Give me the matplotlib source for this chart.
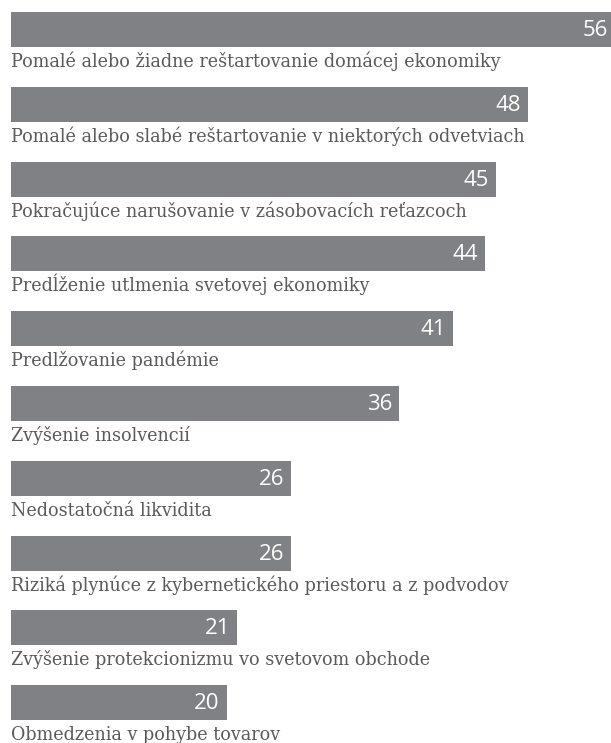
import matplotlib
matplotlib.use("Agg")
import matplotlib.pyplot as plt

categories = [
    "Pomalé alebo žiadne reštartovanie domácej ekonomiky",
    "Pomalé alebo slabé reštartovanie v niektorých odvetviach",
    "Pokračujúce narušovanie v zásobovacích reťazcoch",
    "Predĺženie utlmenia svetovej ekonomiky",
    "Predlžovanie pandémie",
    "Zvýšenie insolvencií",
    "Nedostatočná likvidita",
    "Riziká plynúce z kybernetického priestoru a z podvodov",
    "Zvýšenie protekcionizmu vo svetovom obchode",
    "Obmedzenia v pohybe tovarov",
]
values = [56, 48, 45, 44, 41, 36, 26, 26, 21, 20]

W, H = 611, 743
left_px = 11
px_per_unit = 10.78
fig = plt.figure(figsize=(W / 100, H / 100), dpi=100)
ax = fig.add_axes([left_px / W, 0, (W - left_px) / W, 1])
ax.set_xlim(0, (W - left_px) / px_per_unit)
ax.set_ylim(H, 0)
ax.axis("off")

bar_color = "#808184"
step = 74.8
first_top = 12
bh = 35
pad = 7 / px_per_unit
for i, (cat, v) in enumerate(zip(categories, values)):
    top = first_top + i * step
    ax.barh(top + bh / 2, v, height=bh, left=0, color=bar_color)
    ax.text(v - pad, top + bh / 2 + 1, str(v), ha="right", va="center",
            color="white", fontsize=16, family="Open Sans", clip_on=False)
    ax.text(0, top + bh + 20, cat, ha="left", va="baseline", color="#5a5a5a",
            fontsize=14, family="DejaVu Serif", fontstretch="condensed")

fig.savefig("out.png", dpi=100)
